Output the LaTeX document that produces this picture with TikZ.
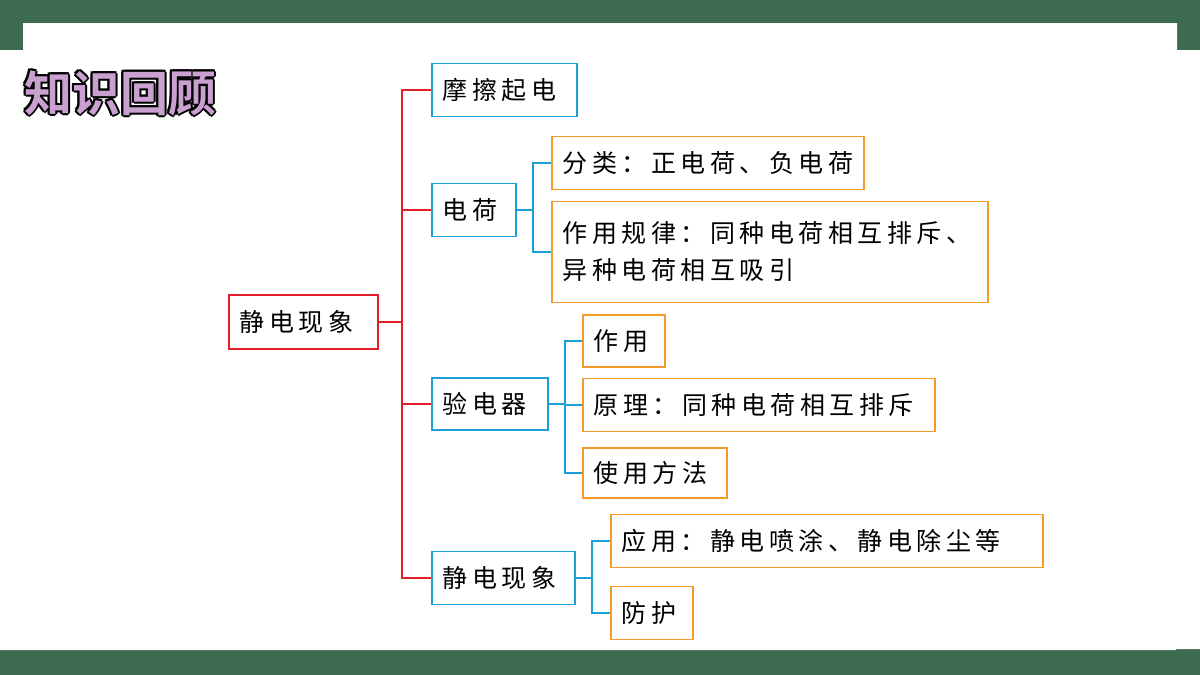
\documentclass[tikz,border=0pt]{standalone}
\usepackage{fontspec}
\setmainfont{Noto Sans CJK SC}
\newfontfamily\cjk[LetterSpace=18]{Noto Sans CJK SC}
\newfontfamily\cjkb{Noto Sans CJK SC Bold}
\definecolor{gbg}{HTML}{3D6B4F}
\definecolor{rd}{HTML}{E0202A}
\definecolor{bl}{HTML}{1A9FD8}
\definecolor{org}{HTML}{F39A2B}
\definecolor{pur}{HTML}{C9A0D0}
\tikzset{
 bx/.style={draw, line width=1.5pt, fill=white, inner xsep=11pt, inner ysep=0pt, anchor=west, font=\cjk\fontsize{25}{37}\selectfont, align=left},
 W/.style={minimum width=#1, text width=#1-22pt},
 rbox/.style={bx, draw=rd},
 bbox/.style={bx, draw=bl},
 obox/.style={bx, draw=org},
 rl/.style={draw=rd, line width=1.5pt},
 bll/.style={draw=bl, line width=1.5pt},
 tt/.style={font=\cjkb\fontsize{48}{52}\selectfont, inner sep=0pt, anchor=west}
}
\begin{document}
\begin{tikzpicture}[x=1pt,y=-1pt]
\useasboundingbox (0,0) rectangle (1200,675);
\fill[gbg] (0,0) rectangle (1200,675);
\fill[white] (23,23) -- (1177,23) -- (1177,50) -- (1200,50) -- (1200,649) -- (1176,649) -- (1176,650) -- (0,650) -- (0,50) -- (23,50) -- cycle;
% title
\foreach \dx/\dy in {-2/0,2/0,0/-2,0/2,-1.5/-1.5,1.5/1.5,-1.5/1.5,1.5/-1.5}
  \node[tt, text=black] at (24+\dx,93+\dy) {知识回顾};
\node[tt, text=pur] (title) at (24,93) {知识回顾};
% nodes
\node[rbox, W=149pt, minimum height=54pt] (root) at (228,322) {静电现象};
\node[bbox, W=145pt, minimum height=53pt] (a) at (431,90) {摩擦起电};
\node[bbox, W=84pt, minimum height=53pt] (b) at (431,210) {电荷};
\node[bbox, W=116pt, minimum height=52pt] (c) at (431,404) {验电器};
\node[bbox, W=143pt, minimum height=53pt] (d) at (431,578) {静电现象};
\node[obox, W=312pt, minimum height=53pt] (b1) at (551,163) {分类：正电荷、负电荷};
\node[obox, W=436pt, minimum height=101pt] (b2) at (551,252) {作用规律：同种电荷相互排斥、\\异种电荷相互吸引};
\node[obox, W=82pt, minimum height=52pt] (c1) at (582,341) {作用};
\node[obox, W=352pt, minimum height=53pt] (c2) at (582,405) {原理：同种电荷相互排斥};
\node[obox, W=144pt, minimum height=50pt] (c3) at (582,473) {使用方法};
\node[obox, W=432pt, minimum height=53pt] (d1) at (610,541) {应用：静电喷涂、静电除尘等};
\node[obox, W=82pt, minimum height=53pt] (d2) at (610,613) {防护};
% red connectors
\coordinate (rj) at (402,322);
\draw[rl] (root.east) -- (rj);
\foreach \n in {a,b,c,d} \draw[rl] (rj) |- (\n.west);
% blue connectors
\coordinate (bj) at (533,210);
\draw[bll] (b.east) -- (bj);
\foreach \n in {b1,b2} \draw[bll] (bj) |- (\n.west);
\coordinate (cj) at (565,404);
\draw[bll] (c.east) -- (cj);
\foreach \n in {c1,c2,c3} \draw[bll] (cj) |- (\n.west);
\coordinate (dj) at (592,578);
\draw[bll] (d.east) -- (dj);
\foreach \n in {d1,d2} \draw[bll] (dj) |- (\n.west);
\end{tikzpicture}
\end{document}
